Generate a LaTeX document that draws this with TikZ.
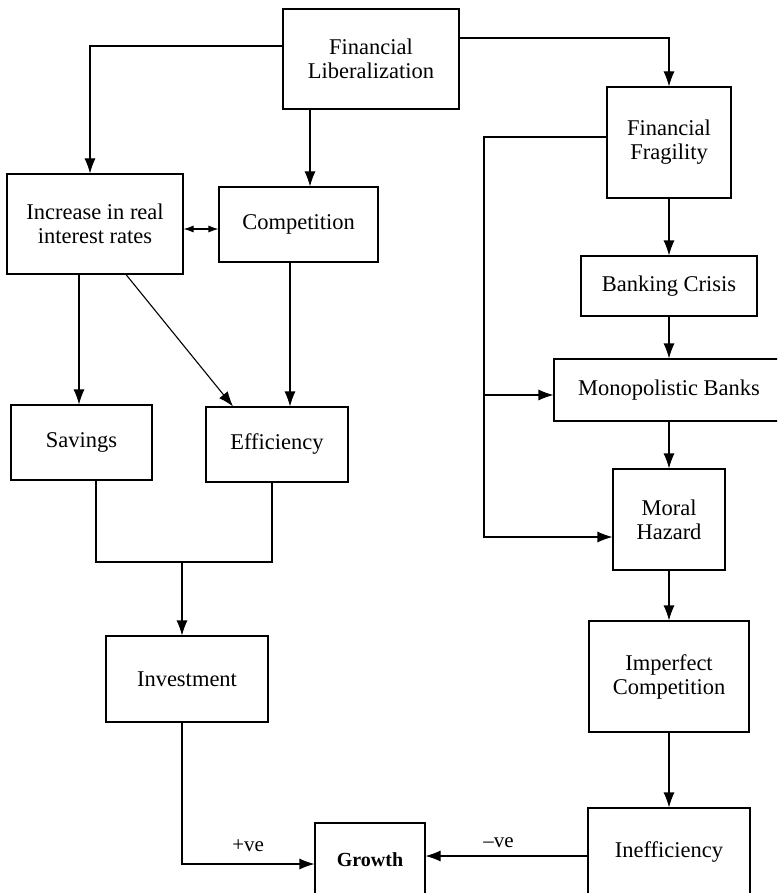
\documentclass[tikz,border=0pt]{standalone}
\usepackage{fontspec}
\setmainfont{Liberation Serif}
\usetikzlibrary{arrows.meta}
\tikzset{
  box/.style={draw, line width=1.1pt, inner sep=0pt, align=center,
    font=\fontsize{22.5}{24}\selectfont},
  arr/.style={line width=1.1pt, -{Latex[length=15pt,width=11pt]}},
  dbl/.style={line width=1.1pt, {Latex[length=10pt,width=7pt]}-{Latex[length=10pt,width=7pt]}},
  plain/.style={line width=1.1pt},
  lbl/.style={font=\fontsize{21}{24}\selectfont, inner sep=0pt}
}
\begin{document}
\begin{tikzpicture}[x=1pt,y=-1pt]
\path[use as bounding box] (0,0) rectangle (777,893);
\clip (0,0) rectangle (777,893);
% boxes
\node[box, minimum width=176pt, minimum height=100pt] (FL) at (371,59) {Financial\\Liberalization};
\node[box, minimum width=124pt, minimum height=111pt] (FF) at (669,142.5) {Financial\\Fragility};
\node[box, minimum width=176pt, minimum height=100pt] (IRR) at (95,224) {Increase in real\\interest rates};
\node[box, minimum width=159pt, minimum height=75pt] (Comp) at (298.5,224.5) {Competition};
\node[box, minimum width=176pt, minimum height=60pt] (BC) at (669,286) {Banking Crisis};
\node[box, minimum width=141pt, minimum height=75pt] (Sav) at (81.5,442.5) {Savings};
\node[box, minimum width=142pt, minimum height=75pt] (Eff) at (277,444.5) {Efficiency};
\node[box, minimum width=230pt, minimum height=62pt] (MB) at (669,390) {Monopolistic Banks};
\node[box, minimum width=112pt, minimum height=101pt] (MH) at (669,519.5) {Moral\\Hazard};
\node[box, minimum width=162pt, minimum height=86pt] (Inv) at (187,679) {Investment};
\node[box, minimum width=160pt, minimum height=111pt] (IC) at (669,676.5) {Imperfect\\Competition};
\node[box, minimum width=110pt, minimum height=74pt, font=\fontsize{20}{24}\selectfont\bfseries] (Gr) at (370,860) {Growth};
\node[box, minimum width=162pt, minimum height=88pt] (Ineff) at (669,852) {Inefficiency};
% helper coordinates
\coordinate (lx) at (484,0);
\coordinate (MBin) at ([yshift=-5pt]MB.west);
\coordinate (MHin) at ([yshift=-17.5pt]MH.west);
\coordinate (m) at (182,562);
% connectors
\draw[arr] ([yshift=13pt]FL.west) -| ([xshift=-5pt]IRR.north);
\draw[arr] ([xshift=-61pt]FL.south) -- ([xshift=11.5pt]Comp.north);
\draw[arr] ([yshift=21pt]FL.east) -| (FF.north);
\draw[arr] ([yshift=5.5pt]FF.west) -| (lx |- MHin) -- (MHin);
\draw[arr] (lx |- MBin) -- (MBin);
\draw[arr] (FF.south) -- (BC.north);
\draw[arr] (BC.south) -- (MB.north);
\draw[arr] (MB.south) -- (MH.north);
\draw[arr] (MH.south) -- (IC.north);
\draw[arr] (IC.south) -- (Ineff.north);
\draw[dbl] ([yshift=-5pt]IRR.east) -- ([yshift=-5pt]IRR.east -| Comp.west);
\draw[arr] ([xshift=-16pt]IRR.south) -- ([xshift=-16pt]IRR.south |- Sav.north);
\draw[arr] ([xshift=31pt]IRR.south) -- ([xshift=-44pt]Eff.north);
\draw[arr] ([xshift=-8.5pt]Comp.south) -- ([xshift=-8.5pt]Comp.south |- Eff.north);
\draw[plain] ([xshift=14.5pt]Sav.south) |- (m) -| ([xshift=-5pt]Eff.south);
\draw[arr] (m) -- (m |- Inv.north);
\draw[arr] ([xshift=-5pt]Inv.south) |- ([yshift=-4pt]Gr.west)
  node[lbl, pos=0.75, above=12pt] (pv) {+ve};
\draw[arr] ([yshift=-4pt]Ineff.west) -- ([yshift=-4pt]Ineff.west -| Gr.east)
  node[lbl, pos=0.55, above=8pt] (mv) {--ve};
\end{tikzpicture}
\end{document}
